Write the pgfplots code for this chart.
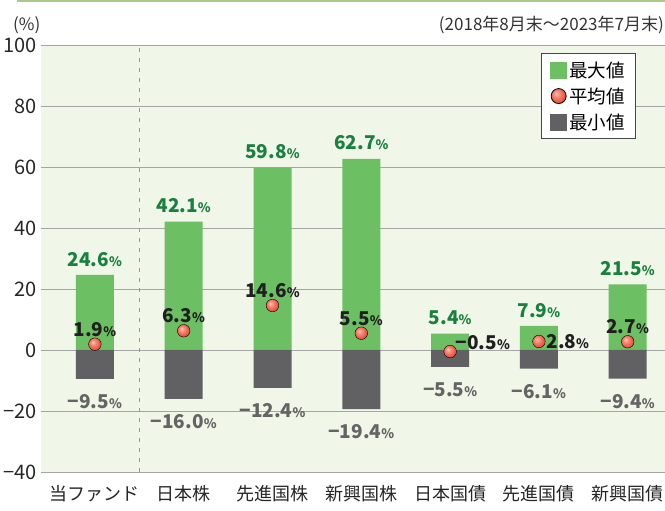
\documentclass[border=0pt]{standalone}
\usepackage{pgfplots}
\pgfplotsset{compat=1.18}
\usepackage{pgfplotstable}
\usepackage{fontspec}
\setmainfont{Noto Sans CJK JP}
\definecolor{barGreen}{RGB}{108,192,99}
\definecolor{barGray}{RGB}{97,97,99}
\definecolor{dotRed}{RGB}{240,98,80}
\definecolor{dotLight}{RGB}{255,200,185}
\definecolor{dotDark}{RGB}{205,70,55}
\definecolor{textGreen}{RGB}{26,128,62}
\definecolor{textGray}{RGB}{100,100,100}
\definecolor{bgGreen}{RGB}{240,246,232}
\definecolor{gridGray}{RGB}{165,165,165}
\definecolor{lineGreen}{RGB}{170,200,140}
\pgfdeclareradialshading{redball}{\pgfqpoint{-9bp}{9bp}}{color(0bp)=(dotLight); color(8bp)=(dotLight!50!dotRed); color(20bp)=(dotRed); color(32bp)=(dotDark); color(50bp)=(dotDark)}
\pgfdeclareplotmark{redball}{\shade[shading=redball] (0pt,0pt) circle (\pgfplotmarksize);}
\newcommand\pct{{\fontsize{13pt}{13pt}\selectfont\%}}
\pgfplotstableread{
x max min maxl minl
0 24.6 -9.5 24.6 −9.5
1 42.1 -16.0 42.1 −16.0
2 59.8 -12.4 59.8 −12.4
3 62.7 -19.4 62.7 −19.4
4 5.4 -5.5 5.4 −5.5
5 7.9 -6.1 7.9 −6.1
6 21.5 -9.4 21.5 −9.4
}\data
\pgfplotstableread{
x avg
0 1.9
1 6.3
2 14.6
3 5.5
4 -0.5
5 2.8
6 2.7
}\avgdata
\begin{document}
\begin{tikzpicture}[x=1pt,y=1pt]
\useasboundingbox (-41,-39) rectangle (624,472);
\draw[line width=2pt, lineGreen] (-24,471) -- (624,471);
\node[anchor=west, inner sep=0pt, font=\fontsize{17pt}{17pt}\selectfont, text=black!80] at (-28,447) {(\%)};
\node[anchor=east, inner sep=0pt, font=\fontsize{17pt}{17pt}\selectfont, text=black!80] at (623,447) {(2018年8月末〜2023年7月末)};
\begin{axis}[
  at={(0,0)}, anchor=south west,
  scale only axis, width=624pt, height=427pt,
  xmin=-0.607, xmax=6.42, ymin=-40, ymax=100,
  axis line style={draw=none},
  major tick length=0pt,
  ytick={-40,-20,0,20,40,60,80,100},
  yticklabels={−40,−20,0,20,40,60,80,100},
  ymajorgrids,
  grid style={gridGray, line width=0.9pt},
  xtick={0,1,2,3,4,5,6},
  xticklabels={当ファンド,日本株,先進国株,新興国株,日本国債,先進国債,新興国債},
  yticklabel style={font=\fontsize{20pt}{20pt}\selectfont, text=black!85, inner sep=0pt, xshift=-4pt},
  xticklabel style={font=\fontsize{18pt}{18pt}\selectfont, text=black!85, inner sep=0pt, yshift=-13pt},
  axis background/.style={fill=bgGreen},
  clip=false,
  legend style={at={(0.9535,0.981)}, anchor=north east, draw={rgb,255:red,70;green,70;blue,70}, line width=0.8pt, fill=white,
    font=\fontsize{18.5pt}{18.5pt}\selectfont, inner xsep=9pt, inner ysep=6pt, row sep=5pt, cells={anchor=west}},
  legend cell align=left,
]
\addlegendimage{legend image code/.code={\fill[barGreen] (0pt,-8pt) rectangle (16pt,8pt);}}
\addlegendentry{最大値}
\addlegendimage{legend image code/.code={\shade[shading=redball] (8pt,0pt) circle (7.5pt);}}
\addlegendentry{平均値}
\addlegendimage{legend image code/.code={\fill[barGray] (0pt,-8pt) rectangle (16pt,8pt);}}
\addlegendentry{最小値}

\addplot[forget plot, dashed, dash pattern=on 4pt off 6pt, gray!80, line width=0.6pt] coordinates {(0.5,-40) (0.5,100)};

\addplot[forget plot, ybar, bar width=38pt, bar shift=0pt, fill=barGreen, draw=none,
  point meta=explicit symbolic, nodes near coords={\pgfplotspointmeta\pct},
  every node near coord/.append style={anchor=south, yshift=5pt, text=textGreen, font=\bfseries\fontsize{19pt}{19pt}\selectfont}]
  table[x=x, y=max, meta=maxl]{\data};
\addplot[forget plot, ybar, bar width=38pt, bar shift=0pt, fill=barGray, draw=none,
  point meta=explicit symbolic, nodes near coords={\pgfplotspointmeta\pct},
  every node near coord/.append style={anchor=north, yshift=-12pt, text=textGray, font=\bfseries\fontsize{19pt}{19pt}\selectfont}]
  table[x=x, y=min, meta=minl]{\data};

\addplot[forget plot, only marks, mark=redball, mark size=6.3pt]
  table[x=x, y=avg]{\avgdata};

\addplot[forget plot, draw=none, mark=none, point meta=explicit symbolic, nodes near coords={\pgfplotspointmeta\pct},
  every node near coord/.append style={anchor=south, yshift=4pt, text=black!88, font=\bfseries\fontsize{19pt}{19pt}\selectfont}]
  coordinates {(0,1.9) [1.9] (1,6.3) [6.3] (2,14.6) [14.6] (3,5.5) [5.5] (6,2.7) [2.7]};
\addplot[forget plot, draw=none, mark=none, point meta=explicit symbolic, nodes near coords={\pgfplotspointmeta\pct},
  every node near coord/.append style={anchor=west, xshift=2pt, yshift=9pt, text=black!88, font=\bfseries\fontsize{19pt}{19pt}\selectfont}]
  coordinates {(4,-0.5) [−0.5]};
\addplot[forget plot, draw=none, mark=none, point meta=explicit symbolic, nodes near coords={\pgfplotspointmeta\pct},
  every node near coord/.append style={anchor=west, xshift=4pt, text=black!88, font=\bfseries\fontsize{19pt}{19pt}\selectfont}]
  coordinates {(5,2.8) [2.8]};
\end{axis}
\end{tikzpicture}
\end{document}
